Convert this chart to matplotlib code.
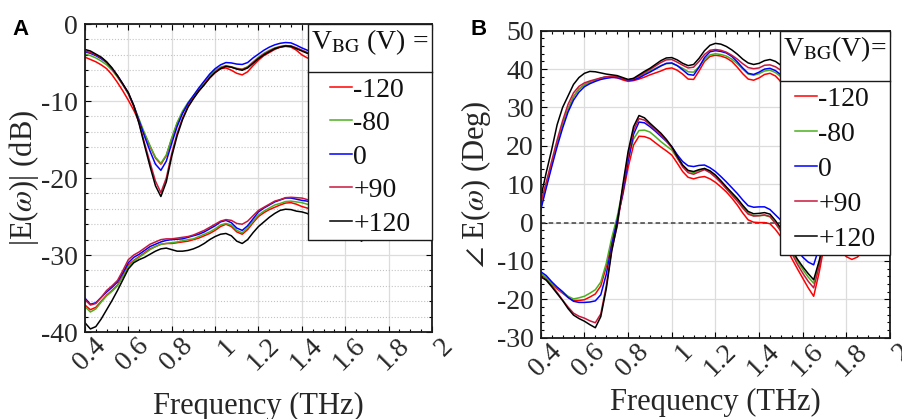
"""Terahertz field magnitude and phase for several back-gate voltages."""

import matplotlib

matplotlib.use("Agg")

import matplotlib.pyplot as plt
import matplotlib.transforms as mtransforms
from matplotlib.lines import Line2D
from matplotlib.ticker import MultipleLocator

plt.rcParams["font.family"] = ["Liberation Serif", "DejaVu Serif"]
plt.rcParams["mathtext.fontset"] = "stix"

TEXT = "#262626"

freq = [0.400, 0.425, 0.450, 0.475, 0.500, 0.525, 0.550, 0.575, 0.600, 0.625,
        0.650, 0.675, 0.700, 0.725, 0.750, 0.775, 0.800, 0.825, 0.850, 0.875,
        0.900, 0.925, 0.950, 0.975, 1.000, 1.025, 1.050, 1.075, 1.100, 1.125,
        1.150, 1.175, 1.200, 1.225, 1.250, 1.275, 1.300, 1.325, 1.350, 1.375,
        1.400, 1.425, 1.450, 1.475, 1.500, 1.525, 1.550, 1.575, 1.600, 1.625,
        1.650, 1.675, 1.700, 1.725, 1.750, 1.775, 1.800, 1.825, 1.850, 1.875,
        1.900, 1.925, 1.950, 1.975, 2.000]

voltages = ["-120", "-80", "0", "+90", "+120"]
colors = ["#ff0000", "#4caf1f", "#0000ff", "#c8173c", "#000000"]

# panel A, |E| in dB, upper set of curves
mag_hi_m120 = [-4.3, -4.6, -4.9, -5.3, -5.8, -6.6, -7.6, -8.7, -9.9, -11.2,
               -12.7, -14.3, -15.9, -17.4, -18.2, -17.1, -14.9, -12.9, -11.5, -10.4,
               -9.5, -8.6, -7.8, -7.0, -6.3, -5.8, -5.7, -6.0, -6.4, -6.6,
               -6.2, -5.4, -4.7, -4.1, -3.7, -3.3, -3.0, -2.9, -3.0, -3.4,
               -4.0, -4.4, -4.6, -4.8, -5.0, -5.2, -5.4, -5.6, -5.8, -6.0,
               -6.1, -6.0, -5.9, -5.7, -5.6, -5.4, -5.2, -5.1, -5.1, -5.2,
               -5.4, -5.5, -5.6, -5.7, -5.8]
mag_hi_m80 = [-3.9, -4.1, -4.4, -4.8, -5.3, -6.0, -6.9, -7.9, -9.1, -10.6,
              -12.4, -14.2, -15.8, -17.3, -18.1, -17.0, -14.8, -12.8, -11.3, -10.2,
              -9.3, -8.4, -7.5, -6.7, -6.0, -5.6, -5.4, -5.55, -5.75, -5.85,
              -5.55, -4.9, -4.3, -3.8, -3.4, -3.1, -2.9, -2.8, -2.85, -3.1,
              -3.4, -3.7, -3.9, -4.1, -4.3, -4.5, -4.7, -4.9, -5.1, -5.3,
              -5.4, -5.3, -5.2, -5.0, -4.9, -4.7, -4.5, -4.4, -4.4, -4.5,
              -4.7, -4.8, -4.9, -5.0, -5.1]
mag_hi_0 = [-3.6, -3.8, -4.1, -4.5, -5.0, -5.8, -6.7, -7.8, -9.0, -10.6,
            -12.6, -14.6, -16.5, -18.2, -19.0, -17.8, -15.5, -13.3, -11.6, -10.3,
            -9.3, -8.3, -7.4, -6.5, -5.8, -5.3, -5.0, -5.05, -5.2, -5.25,
            -5.0, -4.4, -3.9, -3.4, -3.0, -2.7, -2.5, -2.4, -2.45, -2.75,
            -3.1, -3.4, -3.6, -3.8, -4.0, -4.2, -4.4, -4.6, -4.8, -5.0,
            -5.1, -5.0, -4.9, -4.7, -4.6, -4.4, -4.2, -4.1, -4.1, -4.2,
            -4.4, -4.5, -4.6, -4.7, -4.8]
mag_hi_p90 = [-3.5, -3.7, -4.0, -4.4, -5.0, -5.8, -6.8, -7.9, -9.0, -10.7,
              -12.9, -15.5, -18.0, -20.4, -21.9, -20.0, -16.8, -14.2, -12.2, -10.7,
              -9.6, -8.7, -7.8, -6.9, -6.2, -5.7, -5.45, -5.6, -5.8, -5.9,
              -5.6, -5.0, -4.4, -3.9, -3.5, -3.15, -2.95, -2.8, -2.85, -3.1,
              -3.4, -3.7, -3.9, -4.1, -4.3, -4.5, -4.7, -4.9, -5.1, -5.3,
              -5.4, -5.3, -5.2, -5.0, -4.9, -4.7, -4.5, -4.4, -4.4, -4.5,
              -4.7, -4.8, -4.9, -5.0, -5.1]
mag_hi_p120 = [-3.3, -3.5, -3.9, -4.3, -4.9, -5.7, -6.7, -7.8, -8.9, -10.6,
               -13.0, -15.8, -18.5, -21.0, -22.4, -20.5, -17.2, -14.5, -12.4, -10.8,
               -9.7, -8.7, -7.9, -7.0, -6.3, -5.8, -5.5, -5.6, -5.85, -6.0,
               -5.7, -5.1, -4.5, -4.0, -3.6, -3.2, -3.0, -2.85, -2.9, -3.2,
               -3.5, -3.8, -4.0, -4.2, -4.4, -4.6, -4.8, -5.0, -5.2, -5.4,
               -5.5, -5.4, -5.3, -5.1, -5.0, -4.8, -4.6, -4.5, -4.5, -4.6,
               -4.8, -4.9, -5.0, -5.1, -5.2]

# panel A, |E| in dB, lower set of curves
mag_lo_m120 = [-36.5, -37.1, -36.8, -36.0, -35.2, -34.6, -33.9, -32.6, -31.3, -30.7,
               -30.2, -29.7, -29.2, -28.9, -28.6, -28.5, -28.5, -28.4, -28.3, -28.2,
               -28.0, -27.8, -27.5, -27.2, -26.8, -26.3, -26.0, -26.3, -27.0, -27.3,
               -26.7, -25.8, -25.0, -24.5, -24.1, -23.8, -23.5, -23.25, -23.2, -23.4,
               -23.7, -23.9, -24.1, -24.4, -24.7, -25.0, -25.3, -25.6, -25.9, -26.1,
               -26.3, -26.4, -26.4, -26.3, -26.1, -25.9, -25.7, -25.5, -25.4, -25.3,
               -25.2, -25.1, -25.1, -25.0, -25.0]
mag_lo_m80 = [-36.7, -37.4, -37.0, -36.1, -35.3, -34.7, -34.0, -32.8, -31.5, -30.8,
              -30.3, -29.8, -29.3, -28.9, -28.6, -28.5, -28.4, -28.3, -28.15, -28.0,
              -27.9, -27.6, -27.3, -27.0, -26.6, -26.1, -25.9, -26.1, -26.8, -27.1,
              -26.5, -25.6, -24.8, -24.3, -23.9, -23.5, -23.3, -23.05, -23.0, -23.1,
              -23.2, -23.4, -23.6, -23.9, -24.2, -24.5, -24.8, -25.1, -25.4, -25.6,
              -25.8, -25.9, -25.9, -25.8, -25.6, -25.4, -25.2, -25.0, -24.9, -24.8,
              -24.7, -24.6, -24.6, -24.5, -24.5]
mag_lo_0 = [-35.6, -36.4, -36.2, -35.5, -34.8, -34.2, -33.5, -32.3, -31.0, -30.3,
            -29.9, -29.4, -28.9, -28.6, -28.3, -28.1, -28.0, -27.95, -27.9, -27.7,
            -27.5, -27.3, -27.0, -26.6, -26.2, -25.7, -25.5, -25.8, -26.5, -26.8,
            -26.2, -25.3, -24.4, -23.9, -23.5, -23.1, -22.85, -22.6, -22.6, -22.75,
            -22.9, -23.0, -23.2, -23.5, -23.8, -24.1, -24.4, -24.7, -25.0, -25.2,
            -25.4, -25.5, -25.5, -25.4, -25.2, -25.0, -24.8, -24.6, -24.5, -24.4,
            -24.3, -24.2, -24.2, -24.1, -24.1]
mag_lo_p90 = [-35.8, -36.5, -36.3, -35.5, -34.6, -34.0, -33.3, -32.0, -30.6, -30.0,
              -29.6, -29.1, -28.6, -28.3, -28.0, -27.9, -27.9, -27.8, -27.7, -27.6,
              -27.4, -27.1, -26.8, -26.4, -26.0, -25.6, -25.4, -25.5, -25.9, -26.0,
              -25.6, -24.9, -24.2, -23.8, -23.4, -23.0, -22.8, -22.55, -22.5, -22.55,
              -22.6, -22.8, -23.0, -23.3, -23.6, -23.9, -24.2, -24.5, -24.8, -25.0,
              -25.2, -25.3, -25.3, -25.2, -25.0, -24.8, -24.6, -24.4, -24.3, -24.2,
              -24.1, -24.0, -24.0, -23.9, -23.9]
mag_lo_p120 = [-38.8, -39.6, -39.3, -38.3, -37.1, -35.9, -34.6, -33.2, -31.8, -31.0,
               -30.6, -30.3, -29.9, -29.5, -29.2, -29.1, -29.3, -29.5, -29.5, -29.4,
               -29.2, -28.9, -28.5, -28.0, -27.6, -27.3, -27.2, -27.5, -28.2, -28.5,
               -28.0, -27.1, -26.3, -25.7, -25.1, -24.6, -24.2, -24.05, -24.1, -24.3,
               -24.4, -24.6, -25.0, -25.5, -26.0, -26.5, -26.9, -27.2, -27.4, -27.5,
               -27.5, -28.2, -27.6, -27.4, -27.2, -26.9, -26.7, -26.5, -26.4, -26.3,
               -26.1, -26.0, -25.9, -25.85, -25.8]

# panel B, phase in degrees, upper set of curves
ph_hi_m120 = [4.5, 10.0, 15.3, 20.6, 25.4, 29.5, 32.8, 34.8, 35.9, 36.6,
              37.1, 37.6, 38.0, 38.0, 37.7, 37.2, 36.8, 37.0, 37.4, 37.9,
              38.5, 39.0, 39.5, 40.1, 40.3, 39.7, 38.7, 37.4, 37.3, 39.5,
              42.0, 43.3, 43.6, 43.4, 42.9, 42.0, 40.5, 38.8, 37.4, 37.1,
              37.7, 38.6, 38.9, 38.2, 36.7, 35.7, 35.0, 34.3, 33.7, 33.2,
              32.7, 32.7, 33.0, 33.5, 34.0, 34.4, 34.7, 34.6, 34.3, 34.0,
              33.7, 33.6, 33.7, 33.9, 34.2]
ph_hi_m80 = [3.8, 9.5, 15.0, 20.5, 25.4, 29.5, 32.8, 34.8, 35.9, 36.6,
             37.1, 37.6, 38.0, 38.1, 38.0, 37.6, 37.2, 37.4, 38.0, 38.8,
             39.5, 40.2, 40.9, 41.4, 41.5, 40.9, 40.2, 39.3, 39.2, 40.6,
             42.5, 43.7, 44.0, 43.8, 43.4, 42.6, 41.4, 40.0, 38.7, 38.4,
             38.8, 39.5, 39.7, 39.1, 38.0, 37.2, 36.5, 35.8, 35.2, 34.7,
             34.2, 34.2, 34.5, 35.0, 35.5, 35.9, 36.2, 36.1, 35.8, 35.5,
             35.2, 35.1, 35.2, 35.4, 35.7]
ph_hi_0 = [3.3, 9.0, 14.5, 19.8, 24.6, 28.8, 31.9, 34.0, 35.4, 36.2,
           36.8, 37.3, 37.6, 37.8, 37.8, 37.5, 37.1, 37.2, 37.7, 38.5,
           39.2, 40.0, 40.8, 41.5, 41.6, 40.9, 39.8, 38.6, 38.4, 40.5,
           43.0, 44.5, 44.8, 44.6, 44.2, 43.3, 41.9, 40.3, 38.9, 38.6,
           39.2, 40.0, 40.2, 39.6, 38.5, 37.7, 37.0, 36.3, 35.7, 35.2,
           34.7, 34.7, 35.0, 35.5, 36.0, 36.4, 36.7, 36.6, 36.3, 36.0,
           35.7, 35.6, 35.7, 35.9, 36.2]
ph_hi_p90 = [5.0, 10.5, 16.0, 21.5, 26.5, 30.8, 33.8, 35.5, 36.4, 36.9,
             37.3, 37.7, 38.0, 38.1, 38.0, 37.6, 37.2, 37.5, 38.2, 39.1,
             39.9, 40.8, 41.7, 42.4, 42.5, 41.8, 41.0, 40.3, 40.5, 42.0,
             43.8, 44.9, 45.1, 44.9, 44.4, 43.6, 42.6, 41.4, 40.4, 40.1,
             40.3, 41.0, 41.1, 40.6, 39.7, 38.8, 38.1, 37.4, 36.8, 36.3,
             35.8, 35.8, 36.1, 36.6, 37.1, 37.5, 37.8, 37.7, 37.4, 37.1,
             36.8, 36.7, 36.8, 37.0, 37.3]
ph_hi_p120 = [6.5, 13.0, 19.0, 25.5, 30.0, 33.0, 36.0, 37.8, 38.9, 39.4,
              39.3, 39.0, 38.7, 38.5, 38.3, 37.8, 37.3, 37.6, 38.5, 39.4,
              40.2, 41.2, 42.2, 42.9, 43.0, 42.4, 41.5, 40.9, 41.2, 42.8,
              44.8, 46.2, 46.7, 46.5, 45.9, 45.0, 43.9, 42.6, 41.6, 41.2,
              41.5, 42.2, 42.5, 42.0, 41.0, 40.0, 39.3, 38.6, 38.0, 37.5,
              37.0, 37.0, 37.3, 37.8, 38.3, 38.7, 39.0, 38.9, 38.6, 38.3,
              38.0, 37.9, 38.0, 38.2, 38.5]

# panel B, phase in degrees, lower set of curves
ph_lo_m120 = [-13.4, -14.5, -16.0, -17.3, -18.4, -19.5, -20.3, -20.3, -20.1, -19.4,
              -18.6, -16.5, -11.5, -5.0, 0.8, 7.0, 14.3, 20.2, 22.5, 22.4,
              21.9, 20.8, 19.7, 18.7, 17.6, 15.5, 13.3, 11.8, 11.4, 11.8,
              12.0, 11.4, 10.5, 9.3, 8.0, 6.4, 4.6, 2.5, 0.7, 0.1,
              0.0, 0.0, -0.3, -1.8, -3.7, -6.5, -9.4, -12.0, -14.5, -17.0,
              -19.2, -13.0, -5.5, -5.0, -6.0, -7.5, -8.9, -9.6, -9.0, -7.5,
              -6.3, -5.5, -5.0, -4.7, -4.5]
ph_lo_m80 = [-13.3, -14.3, -15.8, -17.0, -18.1, -19.2, -19.9, -19.6, -19.2, -18.4,
             -17.5, -15.5, -10.6, -4.0, 1.5, 8.5, 16.5, 21.8, 24.0, 24.1,
             23.6, 22.4, 21.1, 20.0, 18.9, 16.8, 14.8, 13.4, 13.0, 13.6,
             14.1, 13.2, 12.0, 10.5, 9.0, 7.5, 6.0, 4.2, 2.5, 1.8,
             1.8, 1.9, 1.5, -0.2, -2.0, -4.8, -7.6, -10.0, -12.2, -14.2,
             -15.8, -10.5, -4.0, -3.5, -4.2, -5.0, -5.6, -6.0, -5.8, -5.2,
             -4.7, -4.2, -3.9, -3.7, -3.5]
ph_lo_0 = [-12.8, -13.8, -15.4, -16.8, -18.0, -19.5, -20.5, -20.8, -20.8, -20.7,
           -20.4, -18.8, -13.5, -6.0, 0.5, 7.5, 16.0, 23.0, 26.2, 26.0,
           25.0, 23.8, 22.5, 21.2, 19.8, 17.7, 15.9, 14.8, 14.6, 14.9,
           15.0, 14.3, 13.3, 12.0, 10.6, 9.1, 7.6, 5.9, 4.4, 4.0,
           4.1, 4.1, 3.4, 2.0, 0.6, -2.0, -5.0, -7.2, -9.0, -10.3,
           -11.0, -6.5, -2.0, -1.5, -2.2, -3.0, -3.8, -4.2, -4.0, -3.5,
           -3.0, -2.6, -2.3, -2.1, -2.0]
ph_lo_p90 = [-14.1, -14.9, -16.4, -18.2, -20.2, -22.0, -23.6, -24.4, -24.9, -25.6,
             -26.1, -23.8, -16.5, -7.0, -1.0, 8.5, 17.5, 24.0, 27.1, 26.7,
             25.5, 24.1, 22.8, 21.3, 19.5, 16.9, 14.5, 13.0, 12.6, 13.2,
             13.8, 13.0, 11.8, 10.4, 8.8, 7.2, 5.6, 3.8, 2.2, 1.7,
             1.8, 2.0, 1.6, -0.2, -2.3, -5.0, -8.0, -10.8, -13.2, -15.3,
             -17.0, -11.5, -5.0, -4.0, -4.5, -5.3, -6.0, -6.4, -6.2, -5.6,
             -5.0, -4.6, -4.3, -4.1, -4.0]
ph_lo_p120 = [-14.1, -15.0, -16.7, -18.5, -20.3, -22.4, -24.1, -25.0, -25.7, -26.6,
              -27.4, -24.5, -17.3, -7.5, -0.5, 9.5, 18.5, 25.0, 27.9, 27.3,
              25.9, 24.6, 23.3, 21.7, 19.8, 17.3, 15.0, 13.6, 13.3, 13.8,
              14.1, 13.5, 12.4, 10.9, 9.3, 7.8, 6.3, 4.5, 2.9, 2.3,
              2.4, 2.6, 2.2, 0.5, -1.5, -4.0, -7.0, -9.5, -11.5, -13.3,
              -14.9, -10.0, -4.0, -3.0, -3.5, -4.5, -5.3, -5.8, -5.6, -5.0,
              -4.5, -4.0, -3.7, -3.5, -3.4]

mag_hi = [mag_hi_m120, mag_hi_m80, mag_hi_0, mag_hi_p90, mag_hi_p120]
mag_lo = [mag_lo_m120, mag_lo_m80, mag_lo_0, mag_lo_p90, mag_lo_p120]
ph_hi = [ph_hi_m120, ph_hi_m80, ph_hi_0, ph_hi_p90, ph_hi_p120]
ph_lo = [ph_lo_m120, ph_lo_m80, ph_lo_0, ph_lo_p90, ph_lo_p120]

xticks = [0.4, 0.6, 0.8, 1.0, 1.2, 1.4, 1.6, 1.8, 2.0]
xtick_labels = ["0.4", "0.6", "0.8", "1", "1.2", "1.4", "1.6", "1.8", "2"]
yticks_a = [-40, -30, -20, -10, 0]
yticks_b = [-30, -20, -10, 0, 10, 20, 30, 40, 50]


def style_axes(fig, ax, yticks, ylim, minor_grid):
    ax.set_xlim(0.4, 2.0)
    ax.set_ylim(*ylim)
    ax.set_xticks(xticks, xtick_labels, rotation=45, ha="right", va="top",
                  rotation_mode="anchor")
    ax.set_yticks(yticks, [str(v) for v in yticks])
    ax.xaxis.set_minor_locator(MultipleLocator(0.05))
    ax.yaxis.set_minor_locator(MultipleLocator(2))
    ax.tick_params(which="both", direction="in", top=True, right=True,
                   labelsize=20, labelcolor=TEXT, width=0.8)
    ax.tick_params(which="major", length=4)
    ax.tick_params(which="minor", length=2.2)
    ax.tick_params(axis="x", pad=1)
    ax.tick_params(axis="y", pad=5)
    # nudge the slanted labels right, as the original does
    shift = mtransforms.ScaledTranslation(0.08, 0, fig.dpi_scale_trans)
    for tick in ax.xaxis.get_major_ticks():
        tick.label1.set_transform(tick.label1.get_transform() + shift)
    ax.grid(True, which="major", color="#dcdcdc", lw=0.9)
    if minor_grid:
        ax.grid(True, which="minor", axis="y", color="#c4c4c4", lw=0.8, ls=":")
    for sp in ax.spines.values():
        sp.set_linewidth(1.3)
        sp.set_color("#1a1a1a")
    ax.set_axisbelow(True)


def draw_curves(ax, upper, lower):
    handles = []
    for hi, lo, c in zip(upper, lower, colors):
        (line,) = ax.plot(freq, hi, color=c, lw=1.1, solid_joinstyle="round")
        ax.plot(freq, lo, color=c, lw=1.1, solid_joinstyle="round")
        handles.append(line)
    return handles


def add_legend(ax, handles, title, spacing):
    leg = ax.legend(handles, voltages, title=title, loc="upper right",
                    bbox_to_anchor=(1, 1), borderaxespad=0, fancybox=False,
                    edgecolor="#1a1a1a", framealpha=1, fontsize=20,
                    title_fontsize=20, handlelength=0.8, handletextpad=0.05,
                    labelspacing=spacing, borderpad=0.12)
    leg.get_frame().set_linewidth(1.0)
    for t in leg.get_texts():
        t.set_color("#111111")
    leg.get_title().set_color("#111111")
    return leg


fig = plt.figure(figsize=(9.02, 4.19), dpi=100)
ax_a = fig.add_axes([0.0942, 0.2076, 0.3847, 0.735])
ax_b = fig.add_axes([0.5995, 0.1940, 0.3873, 0.7327])

h_a = draw_curves(ax_a, mag_hi, mag_lo)
style_axes(fig, ax_a, yticks_a, (-40, 0), True)
ax_a.set_xlabel("Frequency (THz)", fontsize=22, color=TEXT)
ax_a.set_ylabel(r"|E($\omega$)| (dB)", fontsize=22, color=TEXT)
ax_a.xaxis.set_label_coords(0.5, -0.193)
ax_a.yaxis.set_label_coords(-0.126, 0.5)
leg_a = add_legend(ax_a, h_a, r"V$_{\mathrm{BG}}$ (V) =", 0.29)

ax_b.axhline(0, color="#404040", lw=1.1, ls=(0, (3, 2)), zorder=1.5)
h_b = draw_curves(ax_b, ph_hi, ph_lo)
style_axes(fig, ax_b, yticks_b, (-30, 50), False)
ax_b.set_xlabel("Frequency (THz)", fontsize=22, color=TEXT)
ax_b.set_ylabel(r"$\angle$ E($\omega$) (Deg)", fontsize=22, color=TEXT)
ax_b.xaxis.set_label_coords(0.5, -0.165)
ax_b.yaxis.set_label_coords(-0.137, 0.5)
leg_b = add_legend(ax_b, h_b, r"V$_{\mathrm{BG}}$(V)=", 0.34)

fig.text(12 / 902, 1 - 35 / 419, "A", fontsize=16, fontweight="bold",
         family="Liberation Sans", va="baseline")
fig.text(470 / 902, 1 - 35 / 419, "B", fontsize=16, fontweight="bold",
         family="Liberation Sans", va="baseline")

# the original has a taller title cell: widen the gap between title and
# entries so the first entry sits where it does there (offsets in pixels)
first_row_offset = {leg_a: 66, leg_b: 69}
fig.canvas.draw()
for leg, want in first_row_offset.items():
    frame = leg.get_frame().get_window_extent()
    first = leg.get_texts()[0].get_window_extent()
    have = frame.y1 - 0.5 * (first.y0 + first.y1)
    leg._legend_box.sep += (want - have) * 72 / fig.dpi
fig.canvas.draw()

# divider between legend title and entries, nearer the entries
for leg in (leg_a, leg_b):
    frame = leg.get_frame().get_window_extent()
    tbox = leg.get_title().get_window_extent()
    first = leg.get_texts()[0].get_window_extent()
    y = (tbox.y0 - 0.75 * (tbox.y0 - first.y1)) / fig.bbox.height
    fig.add_artist(Line2D([frame.x0 / fig.bbox.width, frame.x1 / fig.bbox.width],
                          [y, y], color="#1a1a1a", lw=1.0, zorder=10))

fig.savefig("out.png", dpi=100)
